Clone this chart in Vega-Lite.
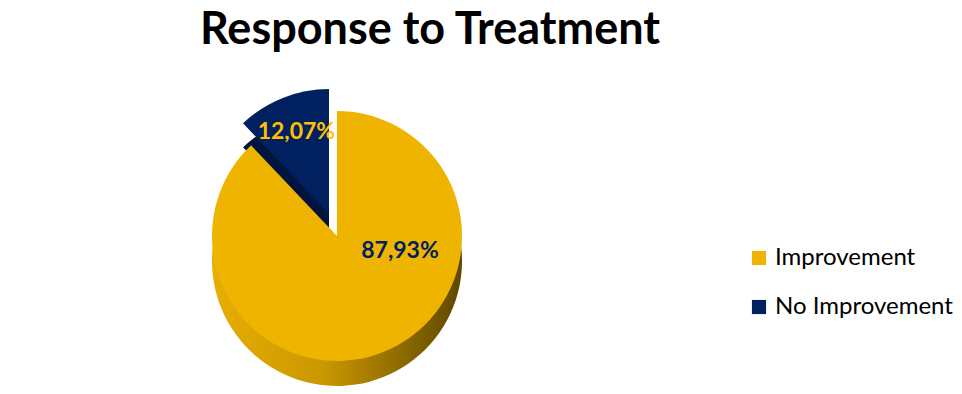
{
  "$schema": "https://vega.github.io/schema/vega-lite/v6.json",
  "width": 674,
  "height": 300,
  "padding": {"left": 0, "top": 8, "right": 0, "bottom": 0},
  "background": "white",
  "title": {"text": "Response to Treatment", "font": "Lato", "fontSize": 45, "fontWeight": "bold", "color": "#000000", "anchor": "middle", "dx": 93, "offset": 33},
  "data": {"values": [
    {"category": "Improvement", "value": 87.93, "label": "87,93%"},
    {"category": "No Improvement", "value": 12.07, "label": "12,07%"}
  ]},
  "encoding": {
    "theta": {"field": "value", "type": "quantitative", "stack": true},
    "order": {"field": "category", "sort": "ascending"}
  },
  "layer": [
    {
      "mark": {"type": "arc", "outerRadius": 125, "fill": "#00143d", "xOffset": -8, "yOffset": 2},
      "encoding": {"opacity": {"condition": {"test": "datum.category === 'No Improvement'", "value": 1}, "value": 0}}
    },
    {
      "mark": {"type": "arc", "outerRadius": 125, "xOffset": -8, "yOffset": -22},
      "encoding": {
        "color": {"field": "category", "type": "nominal"},
        "opacity": {"condition": {"test": "datum.category === 'No Improvement'", "value": 1}, "value": 0}
      }
    },
    {
      "mark": {"type": "arc", "outerRadius": 125, "yOffset": 25, "fill": {"gradient": "linear", "x1": 0, "y1": 0, "x2": 1, "y2": 0, "stops": [{"offset": 0, "color": "#E8AE00"}, {"offset": 0.45, "color": "#C99700"}, {"offset": 1, "color": "#5E4700"}]}},
      "encoding": {"opacity": {"condition": {"test": "datum.category === 'Improvement'", "value": 1}, "value": 0}}
    },
    {
      "mark": {"type": "arc", "outerRadius": 125},
      "encoding": {
        "color": {"field": "category", "type": "nominal"},
        "opacity": {"condition": {"test": "datum.category === 'Improvement'", "value": 1}, "value": 0}
      }
    },
    {
      "mark": {"type": "text", "radius": 0, "font": "Lato", "fontSize": 23, "fontWeight": "bold", "fill": "#002060", "xOffset": 63, "yOffset": 15},
      "encoding": {
        "text": {"field": "label"},
        "opacity": {"condition": {"test": "datum.category === 'Improvement'", "value": 1}, "value": 0}
      }
    },
    {
      "mark": {"type": "text", "radius": 88, "font": "Lato", "fontSize": 23, "fontWeight": "bold", "fill": "#FFC000", "xOffset": -8, "yOffset": -22},
      "encoding": {
        "text": {"field": "label"},
        "opacity": {"condition": {"test": "datum.category === 'No Improvement'", "value": 1}, "value": 0}
      }
    }
  ],
  "resolve": {"scale": {"color": "shared"}, "legend": {"color": "shared"}},
  "config": {
    "view": {"stroke": null},
    "range": {"category": ["#EEB400", "#002060"]},
    "legend": {"title": null, "orient": "none", "legendX": 747, "legendY": 160, "symbolType": "square", "symbolSize": 200, "symbolStrokeWidth": 0, "symbolOpacity": 1, "labelFont": "Lato", "labelFontSize": 24, "labelColor": "#000000", "labelOffset": 4, "labelLimit": 400, "rowPadding": 25}
  }
}
